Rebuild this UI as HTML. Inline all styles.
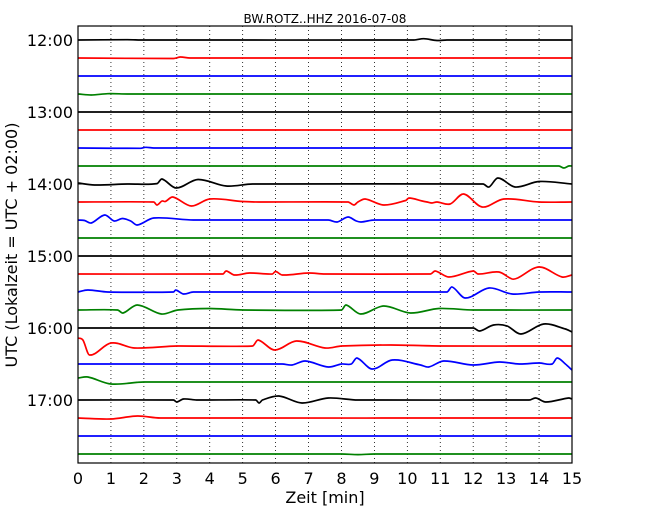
<!DOCTYPE html>
<html><head><meta charset="utf-8"><style>
body{margin:0;background:#fff;}
svg{display:block;font-family:"DejaVu Sans","Liberation Sans",sans-serif;}
</style></head><body>
<svg id="chart" width="650" height="520" viewBox="0 0 650 520">
<defs><clipPath id="pc"><rect x="78" y="26" width="494" height="437"/></clipPath></defs>
<rect width="650" height="520" fill="#fff"/>
<text x="325" y="23" text-anchor="middle" font-size="12">BW.ROTZ..HHZ 2016-07-08</text>
<g id="grid"></g>
<g id="traces" clip-path="url(#pc)"></g>
<rect x="78" y="26" width="494" height="437" fill="none" stroke="#000" stroke-width="1.2"/>
<g id="axes"></g>
<text x="325" y="503" text-anchor="middle" font-size="16">Zeit  [min]</text>
<text transform="translate(17,245) rotate(-90)" text-anchor="middle" font-size="16">UTC (Lokalzeit = UTC + 02:00)</text>
</svg>
<script>
const xTicks = [0,1,2,3,4,5,6,7,8,9,10,11,12,13,14,15];
const yTickRows = [0,4,8,12,16,20];
const yTickLabels = ["12:00","13:00","14:00","15:00","16:00","17:00"];
const colors = ["#000000","#ff0000","#0000ff","#008000"];
// per-row keypoints: [minute, deflection (up positive)]
const rows = [
[[0,0],[1.5,0.3],[2,0],[10.2,0],[10.5,1.3],[10.9,-0.5],[11.2,0],[15,0]],
[[0,0],[2.9,-0.5],[3.1,1],[3.4,0],[15,0]],
[[0,0],[15,0]],
[[0,0],[0.4,-1],[0.9,0.3],[1.5,0],[15,0]],
[[0,0],[15,0]],
[[0,0],[15,0]],
[[0,0],[1.9,-0.3],[2.05,0.7],[2.3,0],[15,0]],
[[0,0],[14.6,0],[14.75,-2],[14.9,0],[15,0]],
[[0,1],[0.5,-1],[1.5,0],[2.4,0.4],[2.55,5],[2.98,-4],[3.64,4.5],[4.5,-2],[5.3,0],[12.3,0],[12.48,-3],[12.75,6],[13.27,-3],[14.0,2.5],[15,0]],
[[0,0],[2.3,0],[2.4,-3],[2.55,1],[2.65,0.5],[2.88,5],[3.44,-4],[4.0,3],[5.0,0.5],[5.5,0],[8.2,0],[8.38,-3],[8.5,0],[8.72,3],[9.28,-3],[9.95,1.5],[10.05,4],[10.45,1],[10.6,0],[10.75,-1],[10.9,0],[11.3,-2],[11.71,8],[12.27,-5],[12.93,3],[14,0],[15,0]],
[[0,0],[0.2,-0.5],[0.4,-3],[0.81,5],[1.1,-1],[1.35,1.5],[1.6,-1],[1.8,-5],[2.3,2],[3.5,0],[7.6,0],[7.87,-2],[8.2,3],[8.45,-1],[8.6,-2],[9,0],[15,0]],
[[0,0],[15,0]],
[[0,0],[15,0]],
[[0,0],[4.4,0],[4.5,3],[4.75,-1],[5.2,1],[5.9,0],[6.0,2.5],[6.2,-1],[7,1],[7.5,0],[10.7,0],[10.85,3],[11.26,-3],[12.0,3],[12.15,0],[12.78,2],[13.18,-5],[13.35,-4],[14.0,7],[14.7,-3],[15,-1]],
[[0,0],[0.3,2],[0.9,0],[2.9,0],[2.97,2],[3.2,-2],[3.5,0],[11.2,0],[11.36,5],[11.76,-6],[12.48,4],[13.18,-2],[14,0],[15,0]],
[[0,0],[1.2,0],[1.37,-3],[1.8,5],[2.53,-4],[3.03,0],[4.0,1.5],[5,0],[8.0,0],[8.14,5],[8.58,-4],[9.28,4],[10.09,-3],[10.96,1.5],[12,0],[15,0]],
[[0,0],[12.0,0],[12.2,-3],[12.62,3],[13.03,2],[13.45,-6],[14.14,4],[14.8,-1],[15,-4]],
[[0,8],[0.15,6],[0.35,-9],[1.0,3],[1.72,-2],[3,0],[5.3,0],[5.47,6],[5.97,-4],[6.63,5],[7.5,-2],[8.0,0],[9.5,1],[11,0],[15,0]],
[[0,0],[6.2,0],[6.5,-1],[6.9,3],[7.6,-3],[8.0,0],[8.3,0],[8.47,6],[8.93,-5],[9.54,4],[10.4,-1],[10.65,-3],[11.1,3],[12,-1],[12.8,2],[13.4,0],[14,1],[14.4,0],[14.55,6],[14.8,0],[15,-6]],
[[0,4],[0.3,5],[1.0,-2],[2,0],[15,0]],
[[0,0],[2.9,0],[3.0,-2],[3.2,1],[3.6,0],[5.4,0],[5.5,-3],[5.6,0],[6.1,4],[6.8,-3],[7.6,2],[8.5,0],[13.7,0],[13.9,2],[14.2,-2],[14.9,2],[15,1]],
[[0,0],[1.0,-1],[1.8,2],[2.5,0],[15,0]],
[[0,0],[15,0]],
[[0,0],[8,0],[8.5,-0.6],[9,0],[15,0]]
];
const NS="http://www.w3.org/2000/svg";
const X0=78,X1=572,ROW0=40,ROWH=18;
function xs(m){return X0+(m-xTicks[0])/(xTicks[xTicks.length-1]-xTicks[0])*(X1-X0);}
function ys(r){return ROW0+r*ROWH;}
function smoothPath(P){
  const n=P.length,m=[];
  for(let i=0;i<n;i++){
    const a=P[Math.max(0,i-1)],b=P[Math.min(n-1,i+1)];
    m.push((b[1]-a[1])/(b[0]-a[0]));
  }
  let d='M'+P[0][0].toFixed(1)+','+P[0][1].toFixed(1);
  for(let i=0;i<n-1;i++){
    const p1=P[i],p2=P[i+1],h=Math.min((p2[0]-p1[0])/3,12);
    d+=' C'+(p1[0]+h).toFixed(1)+','+(p1[1]+m[i]*h).toFixed(1)+' '+(p2[0]-h).toFixed(1)+','+(p2[1]-m[i+1]*h).toFixed(1)+' '+p2[0].toFixed(1)+','+p2[1].toFixed(1);
  }
  return d;
}
const grid=document.getElementById('grid'),axes=document.getElementById('axes'),tr=document.getElementById('traces');
xTicks.forEach((t,i)=>{
  const x=xs(t);
  if(i>0&&i<xTicks.length-1){
    const l=document.createElementNS(NS,'line');
    l.setAttribute('x1',x);l.setAttribute('x2',x);l.setAttribute('y1',26);l.setAttribute('y2',463);
    l.setAttribute('stroke','#000');l.setAttribute('stroke-width','0.8');l.setAttribute('stroke-dasharray','1,3');
    
    
    grid.appendChild(l);
  }
  const tx=document.createElementNS(NS,'text');
  tx.setAttribute('x',x);tx.setAttribute('y',484);tx.setAttribute('text-anchor','middle');tx.setAttribute('font-size','16');
  tx.textContent=t;
  
  
  axes.appendChild(tx);
});
yTickRows.forEach((r,i)=>{
  const y=ys(r);
  const tk=document.createElementNS(NS,'line');
  tk.setAttribute('x1',X0);tk.setAttribute('x2',X0+5);tk.setAttribute('y1',y);tk.setAttribute('y2',y);tk.setAttribute('stroke','#000');
  
  
  axes.appendChild(tk);
  const tx=document.createElementNS(NS,'text');
  tx.setAttribute('x',73);tx.setAttribute('y',y+6);tx.setAttribute('text-anchor','end');tx.setAttribute('font-size','16');
  tx.textContent=yTickLabels[i];
  
  
  axes.appendChild(tx);
});
rows.forEach((pts,r)=>{
  const p=document.createElementNS(NS,'path');
  p.setAttribute('d',smoothPath(pts.map(q=>[xs(q[0]),ys(r)-q[1]])));
  p.setAttribute('fill','none');p.setAttribute('stroke',colors[r%4]);p.setAttribute('stroke-width','1.7');
  p.setAttribute('stroke-linejoin','round');
  
  
  tr.appendChild(p);
});
</script>
</body></html>
